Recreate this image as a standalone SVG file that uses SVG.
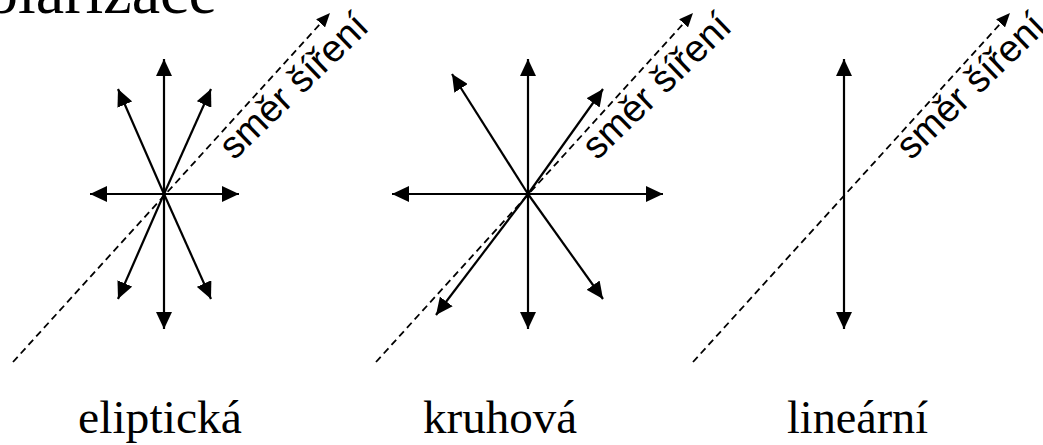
<svg xmlns="http://www.w3.org/2000/svg" width="1043" height="445" viewBox="0 0 1043 445">
<style>
.vec{stroke:#000;stroke-width:2.2;fill:none;marker-end:url(#ah)}
.dir{stroke:#000;stroke-width:1.8;fill:none;stroke-dasharray:7 4.5;marker-end:url(#dh)}
.lbl{font-family:"Liberation Serif","Times New Roman",serif;font-size:46px;fill:#000}
.ttl{font-family:"Liberation Serif","Times New Roman",serif;font-size:64px;fill:#000}
.dtx{font-family:"Liberation Sans",Arial,sans-serif;font-size:38px;fill:#000}
</style>
<defs>
<marker id="ah" markerUnits="userSpaceOnUse" markerWidth="17" markerHeight="16" refX="17" refY="8" orient="auto"><path d="M0,0 L17,8 L0,16 Z" fill="#000"/></marker>
<marker id="dh" markerUnits="userSpaceOnUse" markerWidth="14" markerHeight="12" refX="14" refY="6" orient="auto"><path d="M0,0 L14,6 L0,12 Z" fill="#000"/></marker>
</defs>
<text class="ttl" x="-14" y="13">olarizace</text>
<g id="connectors">
<line class="dir" x1="13" y1="362" x2="330" y2="13"/>
<line class="dir" x1="376" y1="362" x2="693" y2="13"/>
<line class="dir" x1="693" y1="362" x2="1010" y2="13"/>
</g>
<g id="elipticka">
<line class="vec" x1="164" y1="194" x2="164" y2="59"/>
<line class="vec" x1="164" y1="194" x2="164" y2="329"/>
<line class="vec" x1="164" y1="194" x2="90" y2="194"/>
<line class="vec" x1="164" y1="194" x2="239" y2="194"/>
<line class="vec" x1="164" y1="194" x2="118" y2="89"/>
<line class="vec" x1="164" y1="194" x2="211" y2="89"/>
<line class="vec" x1="164" y1="194" x2="118" y2="299"/>
<line class="vec" x1="164" y1="194" x2="211" y2="299"/>
<text class="dtx" transform="translate(234,161) rotate(-44)">směr šíření</text>
<text class="lbl" x="78" y="433" textLength="164" lengthAdjust="spacingAndGlyphs">eliptická</text>
</g>
<g id="kruhova">
<line class="vec" x1="528" y1="194" x2="528" y2="59"/>
<line class="vec" x1="528" y1="194" x2="528" y2="329"/>
<line class="vec" x1="528" y1="194" x2="392" y2="194"/>
<line class="vec" x1="528" y1="194" x2="663" y2="194"/>
<line class="vec" x1="528" y1="194" x2="452" y2="74"/>
<line class="vec" x1="528" y1="194" x2="603" y2="89"/>
<line class="vec" x1="528" y1="194" x2="436" y2="315"/>
<line class="vec" x1="528" y1="194" x2="603" y2="299"/>
<text class="dtx" transform="translate(597,161) rotate(-44)">směr šíření</text>
<text class="lbl" x="423" y="433" textLength="154" lengthAdjust="spacingAndGlyphs">kruhová</text>
</g>
<g id="linearni">
<line class="vec" x1="844" y1="194" x2="844" y2="59"/>
<line class="vec" x1="844" y1="194" x2="844" y2="329"/>
<text class="dtx" transform="translate(911,161) rotate(-44)">směr šíření</text>
<text class="lbl" x="787" y="433" textLength="141" lengthAdjust="spacingAndGlyphs">lineární</text>
</g>
</svg>
